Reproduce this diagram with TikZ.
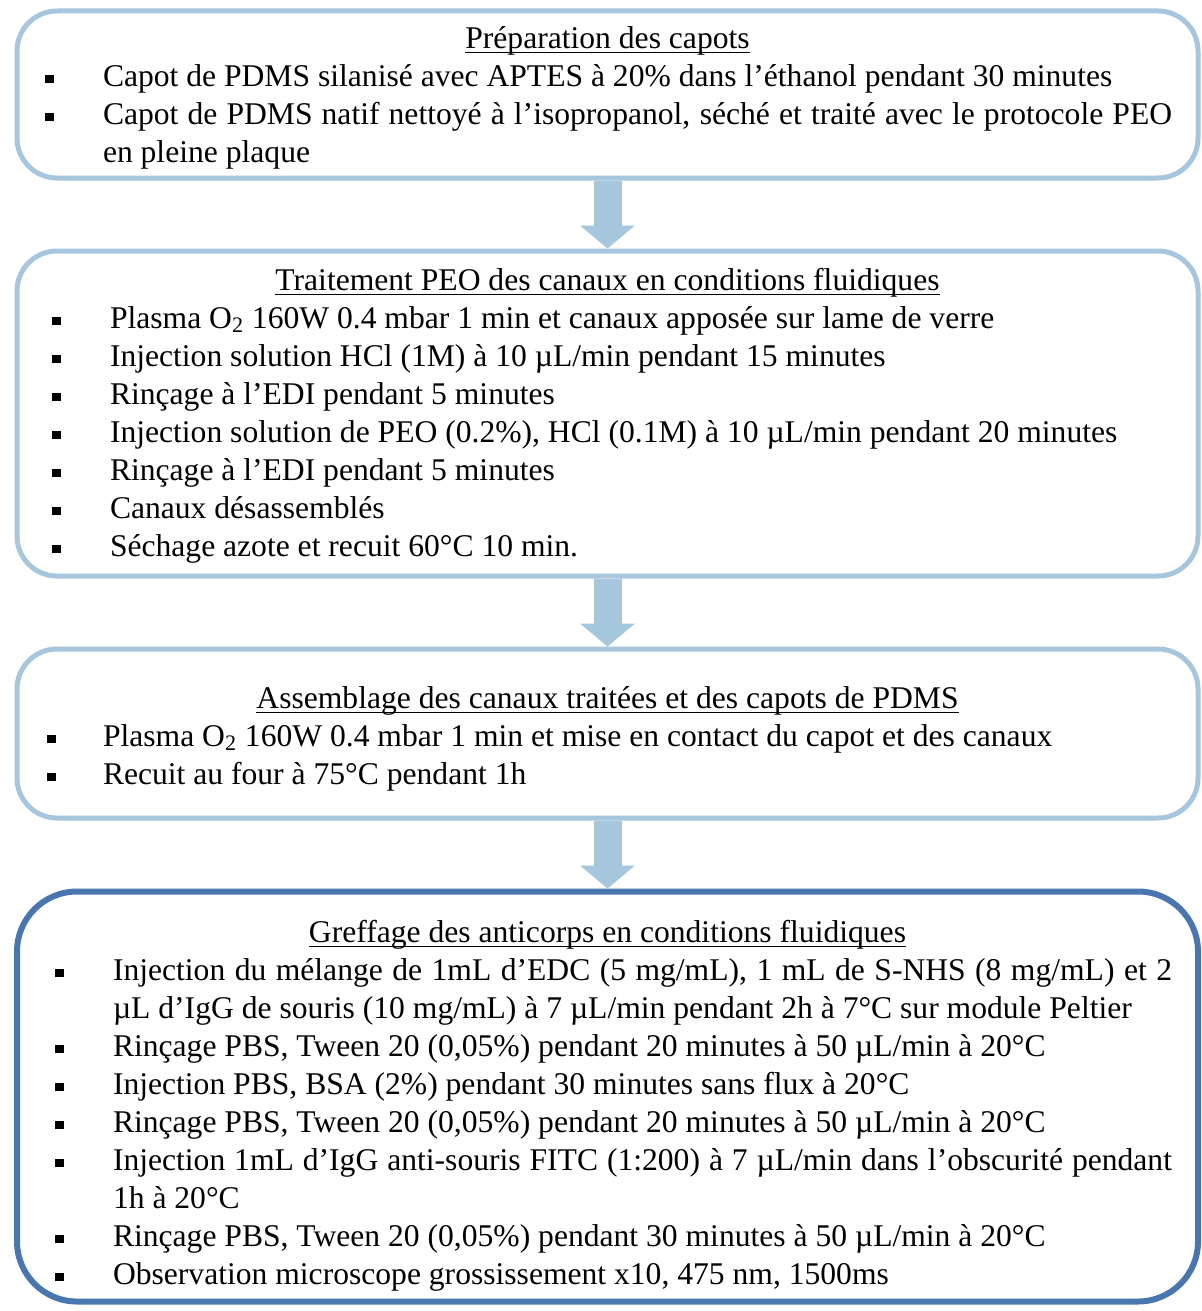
\documentclass[tikz,border=0pt]{standalone}
\usepackage{fontspec}
\setmainfont{Liberation Serif}
\usepackage{tikz}
\usetikzlibrary{positioning, arrows.meta}
\definecolor{pcclair}{HTML}{A5C6DD}
\definecolor{pcfonce}{HTML}{4A76B0}

\newlength\pucex
\newlength\textex
\newsavebox\titrebox
\newcommand{\retraits}[2]{\setlength\pucex{#1}\setlength\textex{#2}%
  \hyphenpenalty=10000 \exhyphenpenalty=10000 \emergencystretch=1em}
\newcommand{\titre}[2][0pt]{\sbox\titrebox{#2}\noindent
  \makebox[\linewidth]{\rule{0pt}{\dimexpr\ht\titrebox+#1\relax}%
    \rlap{\rule[-2.4pt]{\wd\titrebox}{0.7pt}}\usebox\titrebox}\par}
\newcommand{\puce}[1]{\hangindent=\textex\hangafter=1\noindent
  \makebox[\textex][l]{\hspace*{\pucex}\raisebox{1.4pt}{\rule{4.3pt}{4.3pt}}}#1\par}

\begin{document}
\begin{tikzpicture}[node distance=34pt]
  \tikzset{
    etape/.style={rectangle, rounded corners=20pt, draw=pcclair, line width=2.5pt,
      font=\fontsize{15.8}{19}\selectfont, align=justify, text width=564.5pt,
      inner xsep=13pt, minimum width=590.5pt, minimum height=#1},
    etapefin/.style={etape=#1, draw=pcfonce, line width=3pt, rounded corners=30pt},
    fleche/.style={pcclair, line width=14pt,
      -{Triangle[width=27.5pt, length=11.5pt, line width=0pt]}},
  }
  \useasboundingbox (0,0) rectangle (601pt,-655.5pt);
  \node[etape=83.5pt] (prep) at (303.75pt,-47.25pt) {\retraits{1pt}{30pt}%
    \titre[3pt]{Préparation des capots}
    \puce{Capot de PDMS silanisé avec APTES à 20\% dans l’éthanol pendant 30 minutes}
    \puce{Capot de PDMS natif nettoyé à l’isopropanol, séché et traité avec le protocole PEO\linebreak en pleine plaque}};
  \node[etape=162.5pt, below=of prep] (peo) {\retraits{4.5pt}{33.5pt}%
    \titre[2pt]{Traitement PEO des canaux en conditions fluidiques}
    \puce{Plasma O\textsubscript{2} 160W 0.4 mbar 1 min et canaux apposée sur lame de verre}
    \puce{Injection solution HCl (1M) à 10 µL/min pendant 15 minutes}
    \puce{Rinçage à l’EDI pendant 5 minutes}
    \puce{Injection solution de PEO (0.2\%), HCl (0.1M) à 10 µL/min pendant 20 minutes}
    \puce{Rinçage à l’EDI pendant 5 minutes}
    \puce{Canaux désassemblés}
    \puce{Séchage azote et recuit 60°C 10 min.}};
  \node[etape=84.5pt, below=of peo] (assemb) {\retraits{2pt}{30pt}%
    \titre[5pt]{Assemblage des canaux traitées et des capots de PDMS}
    \puce{Plasma O\textsubscript{2} 160W 0.4 mbar 1 min et mise en contact du capot et des canaux}
    \puce{Recuit au four à 75°C pendant 1h}};
  \node[etapefin=205pt, below=of assemb] (greffe) {\retraits{6pt}{35pt}%
    \titre[9pt]{Greffage des anticorps en conditions fluidiques}
    \puce{Injection du mélange de 1mL d’EDC (5 mg/mL), 1 mL de S-NHS (8 mg/mL) et 2\linebreak µL d’IgG de souris (10 mg/mL) à 7 µL/min pendant 2h à 7°C sur module Peltier}
    \puce{Rinçage PBS, Tween 20 (0,05\%) pendant 20 minutes à 50 µL/min à 20°C}
    \puce{Injection PBS, BSA (2\%) pendant 30 minutes sans flux à 20°C}
    \puce{Rinçage PBS, Tween 20 (0,05\%) pendant 20 minutes à 50 µL/min à 20°C}
    \puce{Injection 1mL d’IgG anti-souris FITC (1:200) à 7 µL/min dans l’obscurité pendant\linebreak 1h à 20°C}
    \puce{Rinçage PBS, Tween 20 (0,05\%) pendant 30 minutes à 50 µL/min à 20°C}
    \puce{Observation microscope grossissement x10, 475 nm, 1500ms}};

  \draw[fleche] (prep) -- (peo);
  \draw[fleche] (peo) -- (assemb);
  \draw[fleche] (assemb) -- (greffe);
\end{tikzpicture}
\end{document}
